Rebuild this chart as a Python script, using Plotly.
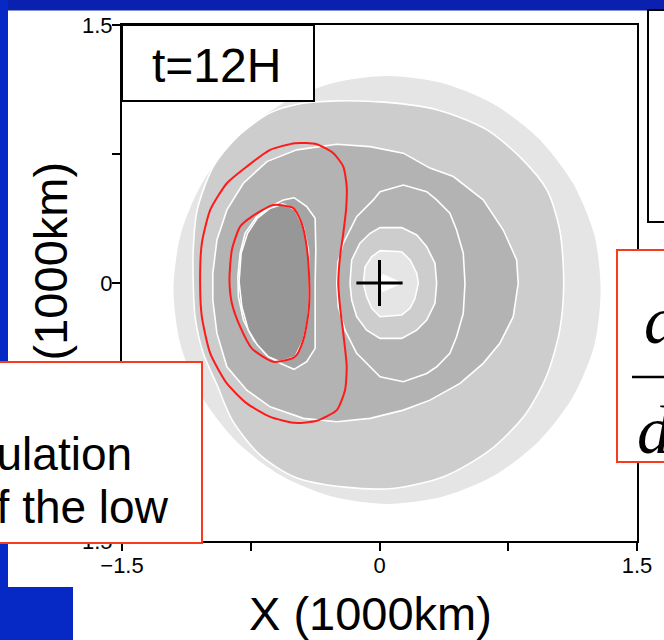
import plotly.graph_objects as go

# ---------------- data (x, y in 1000 km) ----------------
# shaded levels (outermost to innermost)
A_x = [1.288, 1.251, 1.126, 0.928, 0.670, 0.369, 0.047, -0.276, -0.576, -0.835, -1.033, -1.158,
       -1.200, -1.158, -1.033, -0.835, -0.576, -0.276, 0.047, 0.369, 0.670, 0.928, 1.126, 1.251]
A_y = [-0.041, 0.282, 0.581, 0.839, 1.037, 1.161, 1.203, 1.161, 1.037, 0.839, 0.581, 0.282,
       -0.041, -0.363, -0.663, -0.920, -1.118, -1.242, -1.285, -1.242, -1.118, -0.920, -0.663, -0.363]

B_x = [-0.247, 0.044, 0.335, 0.626, 0.835, 0.975, 1.050, 1.073, 1.050, 0.975, 0.847, 0.643, 0.381, 0.090,
       -0.201, -0.492, -0.695, -0.858, -0.946, -1.027, -1.074, -1.085, -1.085, -1.062, -0.969, -0.829, -0.637, -0.463]
B_y = [1.059, 1.050, 1.007, 0.890, 0.716, 0.541, 0.308, 0.0, -0.274, -0.536, -0.768, -0.972, -1.123, -1.193,
       -1.187, -1.129, -1.001, -0.797, -0.594, -0.407, -0.198, 0.0, 0.192, 0.425, 0.675, 0.850, 0.989, 1.042]

C_x = [-0.249, -0.055, 0.139, 0.294, 0.430, 0.604, 0.721, 0.799, 0.808, 0.779, 0.701, 0.604, 0.469, 0.294, 0.139,
       -0.055, -0.249, -0.443, -0.637, -0.773, -0.889, -0.947, -0.971, -0.971, -0.947, -0.889, -0.793, -0.656, -0.482]
C_y = [0.807, 0.793, 0.755, 0.668, 0.619, 0.483, 0.308, 0.134, -0.002, -0.196, -0.351, -0.467, -0.584, -0.681, -0.739,
       -0.787, -0.807, -0.787, -0.720, -0.623, -0.487, -0.293, -0.099, 0.056, 0.250, 0.425, 0.580, 0.706, 0.774]

D_x = [-0.498, -0.424, -0.375, -0.371, -0.375, -0.375, -0.375, -0.424, -0.498, -0.579, -0.656, -0.734, -0.793,
       -0.822, -0.825, -0.812, -0.783, -0.715, -0.637, -0.560]
D_y = [0.496, 0.444, 0.377, 0.192, -0.002, -0.196, -0.380, -0.458, -0.502, -0.467, -0.419, -0.332, -0.215,
       -0.080, 0.037, 0.173, 0.289, 0.386, 0.444, 0.483]

E_x = [-0.560, -0.492, -0.444, -0.414, -0.409, -0.414, -0.444, -0.492, -0.579, -0.647, -0.711, -0.764, -0.802,
       -0.818, -0.806, -0.769, -0.711, -0.637]
E_y = [0.460, 0.425, 0.328, 0.192, -0.002, -0.196, -0.332, -0.429, -0.458, -0.429, -0.361, -0.274, -0.138,
       0.008, 0.173, 0.289, 0.377, 0.435]

F_x = [-0.249, -0.242, -0.211, -0.133, -0.036, 0.003, 0.139, 0.275, 0.333, 0.410, 0.449, 0.488, 0.498, 0.488,
       0.449, 0.410, 0.333, 0.275, 0.139, 0.003, -0.036, -0.133, -0.201, -0.240]
F_y = [-0.002, 0.122, 0.231, 0.386, 0.483, 0.531, 0.570, 0.531, 0.483, 0.406, 0.308, 0.173, -0.002, -0.176,
       -0.313, -0.409, -0.487, -0.526, -0.574, -0.545, -0.506, -0.409, -0.274, -0.138]

G_x = [-0.172, -0.162, -0.114, -0.055, 0.003, 0.129, 0.217, 0.275, 0.323, 0.333, 0.323, 0.275, 0.217, 0.129,
       0.003, -0.075, -0.133, -0.162]
G_y = [-0.002, 0.134, 0.231, 0.289, 0.322, 0.322, 0.279, 0.211, 0.115, -0.002, -0.118, -0.215, -0.274, -0.322,
       -0.322, -0.274, -0.196, -0.099]

H_x = [-0.094, -0.084, -0.045, 0.003, 0.129, 0.178, 0.217, 0.226, 0.207, 0.178, 0.129, 0.003, -0.045, -0.075]
H_y = [-0.002, 0.095, 0.153, 0.188, 0.182, 0.134, 0.056, -0.002, -0.089, -0.147, -0.186, -0.196, -0.147, -0.080]

W_x = [-0.020, 0.020, 0.137, 0.020]
W_y = [0.0, 0.052, 0.0, -0.052]

# red contours
R1_x = [-0.492, -0.366, -0.269, -0.211, -0.191, -0.195, -0.211, -0.230, -0.240, -0.230, -0.211, -0.191, -0.201,
        -0.249, -0.366, -0.492, -0.637, -0.773, -0.889, -0.986, -1.035, -1.045, -1.035, -0.986, -0.889, -0.773, -0.637]
R1_y = [0.813, 0.807, 0.755, 0.677, 0.560, 0.425, 0.289, 0.153, -0.002, -0.138, -0.293, -0.487, -0.623,
        -0.739, -0.801, -0.813, -0.778, -0.700, -0.584, -0.409, -0.196, -0.002, 0.231, 0.425, 0.580, 0.677, 0.774]

R2_x = [-0.619, -0.502, -0.453, -0.424, -0.409, -0.414, -0.444, -0.492, -0.618, -0.744, -0.812, -0.860, -0.874,
        -0.860, -0.812, -0.744]
R2_y = [0.454, 0.435, 0.347, 0.211, -0.002, -0.176, -0.332, -0.429, -0.458, -0.380, -0.254, -0.118, 0.017,
        0.192, 0.328, 0.386]

center_x = [0.0]
center_y = [0.0]

x_tickvals = [-1.5, -0.75, 0, 0.75, 1.5]
x_ticktext = ["\u22121.5", "", "0", "", "1.5"]
y_tickvals = [-1.5, -0.75, 0, 0.75, 1.5]
y_ticktext = ["\u22121.5", "", "0", "", "1.5"]

# ---------------- figure ----------------
FW, FH = 664, 640
ML, MR, MT, MB = 122, 27, 25, 99
PW, PH = FW - ML - MR, FH - MT - MB


def fx(px):
    return (px - ML) / PW


def fy(py):
    return (MT + PH - py) / PH


fig = go.Figure()


def poly(xs, ys, fill, line_color="white", lw=1.6, shape="linear"):
    fig.add_trace(go.Scatter(
        x=list(xs) + [xs[0]], y=list(ys) + [ys[0]], mode="lines", fill="toself",
        fillcolor=fill, line=dict(color=line_color, width=lw, shape=shape, smoothing=0.8),
        hoverinfo="skip", showlegend=False))


def ring(xs, ys, color, lw=2.0, shape="spline"):
    fig.add_trace(go.Scatter(
        x=list(xs) + [xs[0]], y=list(ys) + [ys[0]], mode="lines",
        line=dict(color=color, width=lw, shape=shape, smoothing=0.6),
        hoverinfo="skip", showlegend=False))


poly(A_x, A_y, "#e5e5e5", line_color="rgba(0,0,0,0)", lw=0, shape="spline")
poly(B_x, B_y, "#cdcdcd", shape="spline")
poly(C_x, C_y, "#b3b3b3")
poly(D_x, D_y, "#a5a5a5")
poly(E_x, E_y, "#979797")
poly(F_x, F_y, "#b3b3b3")
poly(G_x, G_y, "#cdcdcd")
poly(H_x, H_y, "#e5e5e5")
poly(W_x, W_y, "#ffffff", line_color="rgba(0,0,0,0)", lw=0)
ring(R1_x, R1_y, "#ff1a1a")
ring(R2_x, R2_y, "#ff1a1a")

fig.add_trace(go.Scatter(
    x=center_x, y=center_y, mode="markers",
    marker=dict(symbol="cross-thin", size=33, line=dict(color="black", width=3)),
    hoverinfo="skip", showlegend=False))

TICKFONT = dict(family="Liberation Sans, Arial, sans-serif", size=22, color="black")
axis_common = dict(range=[-1.5, 1.5], showgrid=False, zeroline=False, showline=True, linecolor="black",
                   linewidth=2, mirror=True, ticks="outside", ticklen=8, tickwidth=1.5, tickcolor="black",
                   tickfont=TICKFONT, fixedrange=True)

fig.update_layout(
    width=FW, height=FH,
    margin=dict(l=ML, r=MR, t=MT, b=MB, pad=0),
    paper_bgcolor="white", plot_bgcolor="white",
    xaxis=dict(tickvals=x_tickvals, ticktext=x_ticktext, ticklabelstandoff=-4, **axis_common),
    yaxis=dict(tickvals=y_tickvals, ticktext=y_ticktext, ticklabelstandoff=-5, **axis_common),
    showlegend=False,
)

BLUE = "#0628c4"
RED_BOX = "#fa3a1c"
shapes = [
    # blue slide frame
    dict(type="rect", xref="paper", yref="paper", x0=fx(-5), x1=fx(FW + 5), y0=fy(-5), y1=fy(10.5),
         fillcolor="#0a20ae", line=dict(width=0), layer="below"),
    dict(type="rect", xref="paper", yref="paper", x0=fx(-5), x1=fx(8), y0=fy(-5), y1=fy(FH + 5),
         fillcolor=BLUE, line=dict(width=0), layer="below"),
    dict(type="rect", xref="paper", yref="paper", x0=fx(-5), x1=fx(73), y0=fy(587), y1=fy(FH + 5),
         fillcolor=BLUE, line=dict(width=0), layer="below"),
    # boxes over the chart
    dict(type="rect", xref="paper", yref="paper", x0=fx(122), x1=fx(314), y0=fy(101), y1=fy(25),
         fillcolor="white", line=dict(color="black", width=2), layer="above"),
    dict(type="rect", xref="paper", yref="paper", x0=fx(617), x1=fx(690), y0=fy(462), y1=fy(250),
         fillcolor="white", line=dict(color=RED_BOX, width=2), layer="above"),
    dict(type="rect", xref="paper", yref="paper", x0=fx(648), x1=fx(690), y0=fy(222), y1=fy(10),
         fillcolor="white", line=dict(color="black", width=2), layer="above"),
    dict(type="line", xref="paper", yref="paper", x0=fx(632), x1=fx(690), y0=fy(377), y1=fy(377),
         line=dict(color="black", width=2.5), layer="above"),
]
fig.update_layout(shapes=shapes)

SANS = "Liberation Sans, Arial, sans-serif"
SERIF = "Liberation Serif, Times New Roman, serif"


def ann(text, px, py, size, xanchor="center", family=SANS, angle=0):
    fig.add_annotation(text=text, xref="paper", yref="paper", x=fx(px), y=fy(py),
                       xanchor=xanchor, yanchor="middle", showarrow=False, textangle=angle,
                       font=dict(family=family, size=size, color="black"))


ann("t=12H", 216, 65, 48)
ann("X (1000km)", 370, 613, 47)
ann("Y (1000km)", 50, 283, 47, angle=-90)

# red-bordered box (an annotation so it sits above the y-axis title)
fig.add_annotation(text=" ", xref="paper", yref="paper", x=fx(203), y=fy(361),
                   xanchor="right", yanchor="top", showarrow=False,
                   width=214, height=179, borderpad=0, borderwidth=2,
                   bordercolor=RED_BOX, bgcolor="white", font=dict(size=10))

ann("circulation", 134, 454, 46, xanchor="right")
ann("of the low", 171, 507, 46, xanchor="right")
ann("<i>d</i>", 642, 320, 68, xanchor="left", family=SERIF)
ann("<i>d</i>", 635, 430, 68, xanchor="left", family=SERIF)

fig.write_html("out.html")
